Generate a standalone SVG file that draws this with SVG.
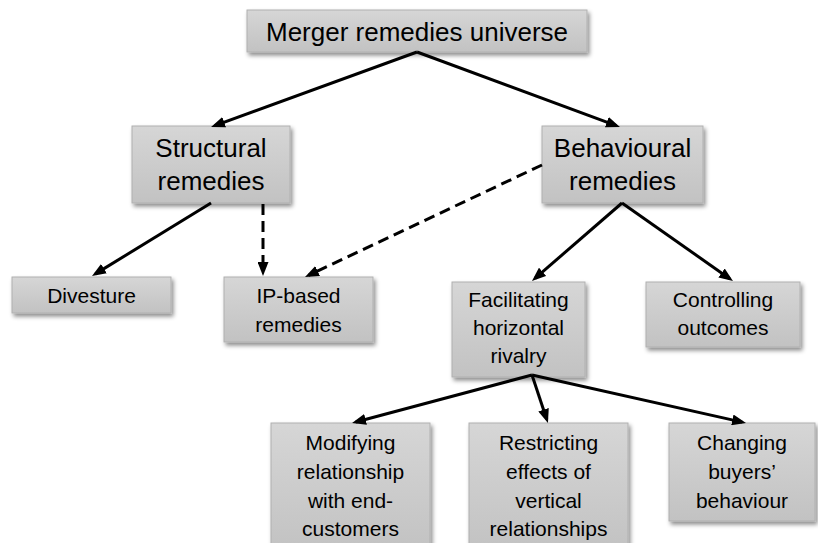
<svg xmlns="http://www.w3.org/2000/svg" width="818" height="543" viewBox="0 0 818 543">
<defs>
<linearGradient id="g" x1="0" y1="0" x2="0" y2="1">
<stop offset="0" stop-color="#d6d6d6"/>
<stop offset="1" stop-color="#c2c2c2"/>
</linearGradient>
<filter id="sh" x="-10%" y="-10%" width="130%" height="140%">
<feDropShadow dx="2" dy="3" stdDeviation="2" flood-color="#000" flood-opacity="0.45"/>
</filter>
<marker id="ah" viewBox="0 0 14 11" refX="10" refY="5.5" markerWidth="14" markerHeight="11" markerUnits="userSpaceOnUse" orient="auto">
<path d="M0,0 L14,5.5 L0,11 z" fill="#000"/>
</marker>
<style>
.box{fill:url(#g);stroke:#b0b0b0;stroke-width:1;filter:url(#sh)}
text{font-family:"Liberation Sans",Arial,sans-serif;fill:#000;text-anchor:middle}
.t26{font-size:26px}
.t21{font-size:21px}
.c{fill:none;stroke:#000;stroke-width:3;marker-end:url(#ah)}
.d{stroke-dasharray:11 6}
</style>
</defs>
<g id="n-top">
<rect class="box" x="247" y="10" width="340" height="42"/>
<text class="t26" x="417" y="41">Merger remedies universe</text>
</g>
<g id="n-structural">
<rect class="box" x="132" y="126" width="158" height="77"/>
<text class="t26" x="211" y="157">Structural</text>
<text class="t26" x="211" y="190">remedies</text>
</g>
<g id="n-behavioural">
<rect class="box" x="542" y="126" width="161" height="77"/>
<text class="t26" x="622.5" y="157">Behavioural</text>
<text class="t26" x="622.5" y="190">remedies</text>
</g>
<g id="n-divesture">
<rect class="box" x="12" y="277" width="159" height="36"/>
<text class="t21" x="91.5" y="303">Divesture</text>
</g>
<g id="n-ip">
<rect class="box" x="224" y="277" width="149" height="65"/>
<text class="t21" x="298.5" y="303">IP-based</text>
<text class="t21" x="298.5" y="332">remedies</text>
</g>
<g id="n-facilitating">
<rect class="box" x="452" y="282" width="133" height="95"/>
<text class="t21" x="518.5" y="307">Facilitating</text>
<text class="t21" x="518.5" y="335">horizontal</text>
<text class="t21" x="518.5" y="363">rivalry</text>
</g>
<g id="n-controlling">
<rect class="box" x="646" y="282" width="154" height="65"/>
<text class="t21" x="723" y="307">Controlling</text>
<text class="t21" x="723" y="335">outcomes</text>
</g>
<g id="n-modifying">
<rect class="box" x="271" y="423" width="159" height="130"/>
<text class="t21" x="350.5" y="450">Modifying</text>
<text class="t21" x="350.5" y="479">relationship</text>
<text class="t21" x="350.5" y="508">with end-</text>
<text class="t21" x="350.5" y="536">customers</text>
</g>
<g id="n-restricting">
<rect class="box" x="469" y="423" width="159" height="130"/>
<text class="t21" x="548.5" y="450">Restricting</text>
<text class="t21" x="548.5" y="479">effects of</text>
<text class="t21" x="548.5" y="508">vertical</text>
<text class="t21" x="548.5" y="536">relationships</text>
</g>
<g id="n-changing">
<rect class="box" x="669" y="423" width="146" height="98"/>
<text class="t21" x="742" y="450">Changing</text>
<text class="t21" x="742" y="479">buyers’</text>
<text class="t21" x="742" y="508">behaviour</text>
</g>
<g id="connectors">
<line class="c" x1="417" y1="52" x2="214.8" y2="125.6"/>
<line class="c" x1="417" y1="52" x2="616.2" y2="125.6"/>
<line class="c" x1="211" y1="203" x2="95.4" y2="273.9"/>
<line class="c d" x1="263" y1="204" x2="263" y2="272"/>
<line class="c d" x1="542" y1="165" x2="308.6" y2="275.3"/>
<line class="c" x1="622" y1="203" x2="535" y2="278.4"/>
<line class="c" x1="622" y1="203" x2="729.7" y2="278.7"/>
<line class="c" x1="532" y1="375" x2="355.9" y2="422"/>
<line class="c" x1="532" y1="375" x2="546.7" y2="419.2"/>
<line class="c" x1="532" y1="375" x2="742.1" y2="422.1"/>
</g>
</svg>
